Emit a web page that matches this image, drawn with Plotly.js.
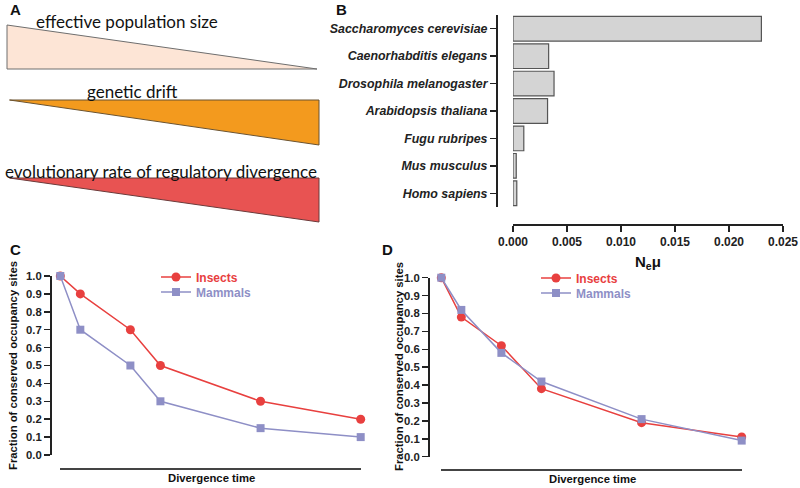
<!DOCTYPE html>
<html>
<head>
<meta charset="utf-8">
<script src="https://cdn.plot.ly/plotly-3.0.1.min.js"></script>
<style>html,body{margin:0;padding:0;background:#fff;}#chart{width:800px;height:488px;}</style>
</head>
<body>
<div id="chart"></div>
<script>
// ---- Panel B data ----
const species = ['Saccharomyces cerevisiae','Caenorhabditis elegans','Drosophila melanogaster','Arabidopsis thaliana','Fugu rubripes','Mus musculus','Homo sapiens'];
const neMu = [0.023, 0.0033, 0.0038, 0.0032, 0.001, 0.0003, 0.00035];
const neMuTicks = [0, 0.005, 0.010, 0.015, 0.020, 0.025];

// ---- Panel C data ----
const divTimeC = [0, 2, 7, 10, 20, 30];
const insectsC = [1.0, 0.9, 0.7, 0.5, 0.3, 0.2];
const mammalsC = [1.0, 0.7, 0.5, 0.3, 0.15, 0.1];

// ---- Panel D data ----
const divTimeD = [0, 2, 6, 10, 20, 30];
const insectsD = [1.0, 0.78, 0.62, 0.38, 0.19, 0.11];
const mammalsD = [1.0, 0.82, 0.58, 0.42, 0.21, 0.09];

const fracTicks = [0,0.1,0.2,0.3,0.4,0.5,0.6,0.7,0.8,0.9,1.0];

// ---- Panel A labels ----
const schemeLabels = ['effective population size','genetic drift','evolutionary rate of regulatory divergence'];

const W = 800, H = 488;
const px = v => v / W;
const py = v => 1 - v / H;

const RED = '#e8403f', PURPLE = '#8e8fc6', AX = '#222222';
const ARIAL = 'Liberation Sans, Arial, sans-serif';
const tickFont = {family: ARIAL, size: 11.3, color: AX, weight: 'bold'};

const traces = [
  {type:'bar', orientation:'h', y: species, x: neMu, xaxis:'x', yaxis:'y', width:0.9,
   marker:{color:'#d4d4d4', line:{color:'#555555', width:1.2}}, showlegend:false, hoverinfo:'x+y'},
  {type:'scatter', mode:'lines+markers', name:'Insects', x: divTimeC, y: insectsC, xaxis:'x2', yaxis:'y2',
   line:{color:RED, width:1.5}, marker:{symbol:'circle', size:9, color:RED}, cliponaxis:false, legend:'legend'},
  {type:'scatter', mode:'lines+markers', name:'Mammals', x: divTimeC, y: mammalsC, xaxis:'x2', yaxis:'y2',
   line:{color:PURPLE, width:1.5}, marker:{symbol:'square', size:8, color:PURPLE}, cliponaxis:false, legend:'legend2'},
  {type:'scatter', mode:'lines+markers', name:'Insects', x: divTimeD, y: insectsD, xaxis:'x3', yaxis:'y3',
   line:{color:RED, width:1.5}, marker:{symbol:'circle', size:9, color:RED}, cliponaxis:false, legend:'legend3'},
  {type:'scatter', mode:'lines+markers', name:'Mammals', x: divTimeD, y: mammalsD, xaxis:'x3', yaxis:'y3',
   line:{color:PURPLE, width:1.5}, marker:{symbol:'square', size:8, color:PURPLE}, cliponaxis:false, legend:'legend4'}
];

function fracY(domTop, domBot, xpos) {
  return {domain:[py(domBot), py(domTop)], range:[0,1], anchor:'free', position: px(xpos),
    tickvals: fracTicks, tickformat:'.1f', ticks:'outside', ticklen:6, tickwidth:1.5, tickcolor:AX,
    showline:true, linecolor:AX, linewidth:1.8, showgrid:false, zeroline:false, tickfont: tickFont, fixedrange:true};
}
function timeX(l, r, ypos) {
  return {domain:[px(l), px(r)], range:[0,30], anchor:'free', position: py(ypos),
    showline:true, linecolor:'#444', linewidth:2, ticks:'', showticklabels:false, showgrid:false, zeroline:false, fixedrange:true};
}

const shapes = [
  {type:'path', xref:'paper', yref:'paper', path:`M ${px(7)} ${py(25)} L ${px(317)} ${py(69)} L ${px(7)} ${py(69)} Z`,
   fillcolor:'#fde5d6', line:{color:'#6e6e6e', width:1}},
  {type:'path', xref:'paper', yref:'paper', path:`M ${px(9.5)} ${py(100)} L ${px(319)} ${py(100)} L ${px(319)} ${py(145)} Z`,
   fillcolor:'#f39a1e', line:{color:'#6b5330', width:1}},
  {type:'path', xref:'paper', yref:'paper', path:`M ${px(9.5)} ${py(178)} L ${px(319)} ${py(178)} L ${px(319)} ${py(222)} Z`,
   fillcolor:'#e85352', line:{color:'#6b3a3a', width:1}}
];

const schemeFont = s => ({family:'Lato, Open Sans, sans-serif', size:s, color:'#111'});
const panelFont = {family:ARIAL, size:15, color:'#111', weight:'bold'};
const titleFont = {family:ARIAL, size:11.3, color:'#111', weight:'bold'};

const annotations = [
  {text:'A', x:px(8), y:py(10), xanchor:'left', yanchor:'middle', font:panelFont},
  {text:'B', x:px(334), y:py(10), xanchor:'left', yanchor:'middle', font:panelFont},
  {text:'C', x:px(8), y:py(249), xanchor:'left', yanchor:'middle', font:panelFont},
  {text:'D', x:px(380), y:py(249), xanchor:'left', yanchor:'middle', font:panelFont},
  {text:schemeLabels[0], x:px(127), y:py(21), xanchor:'center', yanchor:'middle', font:schemeFont(17)},
  {text:schemeLabels[1], x:px(132), y:py(91), xanchor:'center', yanchor:'middle', font:schemeFont(17)},
  {text:schemeLabels[2], x:px(161), y:py(171), xanchor:'center', yanchor:'middle', font:schemeFont(17)},
  {text:'N<sub>e</sub>μ', x:px(648), y:py(262), xanchor:'center', yanchor:'middle', font:{family:ARIAL, size:15, color:'#111', weight:'bold'}},
  {text:'Divergence time', x:px(211), y:py(478), xanchor:'center', yanchor:'middle', font:titleFont},
  {text:'Divergence time', x:px(592), y:py(479), xanchor:'center', yanchor:'middle', font:titleFont},
  {text:'Fraction of conserved occupancy sites', x:px(13), y:py(366), xanchor:'center', yanchor:'middle', textangle:-90, font:titleFont},
  {text:'Fraction of conserved occupancy sites', x:px(399), y:py(367), xanchor:'center', yanchor:'middle', textangle:-90, font:titleFont}
].map(a => Object.assign({xref:'paper', yref:'paper', showarrow:false}, a));

function legendAt(x, y, color) {
  return {x:px(x), y:py(y), xanchor:'left', yanchor:'top', bgcolor:'rgba(0,0,0,0)', borderwidth:0,
    font:{family:ARIAL, size:12, weight:'bold', color:color}, itemwidth:30};
}

const layout = {
  width: W, height: H, margin:{l:0,r:0,t:0,b:0}, paper_bgcolor:'#fff', plot_bgcolor:'rgba(0,0,0,0)',
  showlegend: true, bargap: 0.1,
  xaxis: {domain:[px(513), px(783)], range:[0,0.025], anchor:'free', position: py(224),
    tickvals: neMuTicks, tickformat:'.3f', ticks:'outside', ticklen:6, tickwidth:1.5, tickcolor:AX,
    showline:true, linecolor:AX, linewidth:1.8, showgrid:false, zeroline:false,
    tickfont:{family:ARIAL, size:12, color:AX, weight:'bold'}, fixedrange:true},
  yaxis: {domain:[py(207), py(15)], anchor:'free', position: px(496), type:'category', autorange:'reversed',
    ticks:'outside', ticklen:6, tickwidth:1.5, tickcolor:AX, showline:true, linecolor:AX, linewidth:1.8,
    showgrid:false, zeroline:false,
    tickfont:{family:ARIAL, size:12.4, color:AX, weight:'bold', style:'italic'}, fixedrange:true},
  xaxis2: timeX(60.3, 360.7, 469),
  yaxis2: fracY(276, 455, 50),
  xaxis3: timeX(441.3, 741.7, 469.5),
  yaxis3: fracY(277.7, 456.7, 428),
  legend: legendAt(156, 262.5, RED),
  legend2: legendAt(156, 277.5, PURPLE),
  legend3: legendAt(536, 263.5, RED),
  legend4: legendAt(536, 278.5, PURPLE),
  shapes: shapes,
  annotations: annotations
};

Plotly.newPlot('chart', traces, layout, {displayModeBar:false, staticPlot:true});
</script>
</body>
</html>
